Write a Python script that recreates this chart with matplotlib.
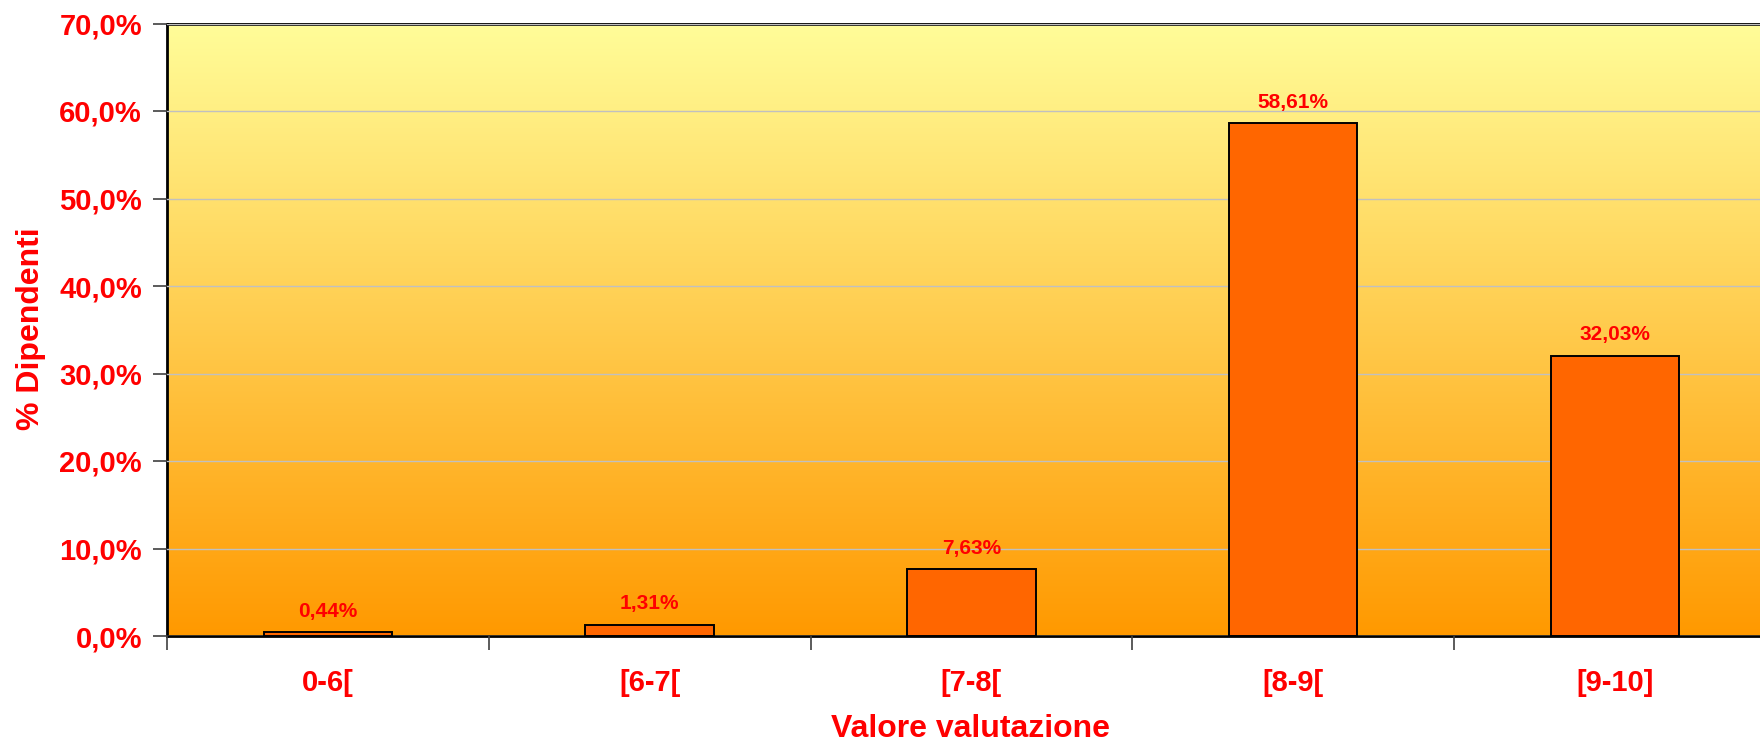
import numpy as np
import matplotlib.pyplot as plt
from matplotlib.colors import LinearSegmentedColormap

plt.rcParams['font.family'] = ['Liberation Sans', 'DejaVu Sans']
plt.rcParams['font.weight'] = 'bold'

# data
categories = ['0-6[', '[6-7[', '[7-8[', '[8-9[', '[9-10]']
percentages = [0.44, 1.31, 7.63, 58.61, 32.03]
value_labels = ['0,44%', '1,31%', '7,63%', '58,61%', '32,03%']
y_ticks = [0, 10, 20, 30, 40, 50, 60, 70]
y_tick_labels = ['0,0%', '10,0%', '20,0%', '30,0%', '40,0%', '50,0%', '60,0%', '70,0%']

red = '#FF0000'
W, H = 1760, 744

fig = plt.figure(figsize=(W / 100, H / 100), dpi=100, facecolor='white')
ax = fig.add_axes([167 / W, 1 - 636 / H, 1 - 167 / W, (636 - 23.5) / H])

# the chart is slightly cut at the right edge
x_right = 4.951

# background gradient (yellow at top -> orange at bottom)
cmap = LinearSegmentedColormap.from_list('bg', ['#FF9900', '#FFFD99'])
grad = np.linspace(0, 1, 256).reshape(-1, 1)
ax.imshow(grad, cmap=cmap, aspect='auto', origin='lower',
          extent=[0, x_right, 0, 70], zorder=0)

x = np.arange(len(categories)) + 0.5
bars = ax.bar(x, percentages, 0.4, color='#FF6600', edgecolor='black',
              linewidth=1.4, zorder=3)

for rect, lab in zip(bars, value_labels):
    ax.annotate(lab, xy=(rect.get_x() + rect.get_width() / 2, rect.get_height()),
                xytext=(0, 15), textcoords='offset points',
                ha='center', va='center', fontsize=15, color=red,
                fontweight='bold', zorder=4)

ax.set_xlim(0, x_right)
ax.set_ylim(0, 70)

ax.set_yticks(y_ticks)
ax.set_yticklabels(y_tick_labels)
ax.yaxis.grid(True, color='#C0C0C0', linewidth=1.0, zorder=1)
ax.set_axisbelow(False)

# x: ticks at category boundaries, labels at centers
ax.set_xticks(np.arange(len(categories)))
ax.set_xticklabels([])
ax.set_xticks(x, minor=True)
ax.set_xticklabels(categories, minor=True)
ax.tick_params(axis='x', which='major', length=10, width=1.2, color='#404040')
ax.tick_params(axis='x', which='minor', length=0, pad=24, labelsize=21,
               labelcolor=red)
ax.tick_params(axis='y', length=10, width=1.2, color='#404040', pad=8,
               labelsize=21, labelcolor=red)
for t in ax.get_xticklabels(minor=True) + ax.get_yticklabels():
    t.set_fontweight('bold')

fig.text(970 / W, 1 - 737 / H, 'Valore valutazione', fontsize=23, color=red,
         fontweight='bold', ha='center', va='baseline')
fig.text(31 / W, 1 - 329 / H, '% Dipendenti', fontsize=23, color=red,
         fontweight='bold', ha='center', va='center', rotation=90)

for side in ['left', 'bottom', 'top']:
    ax.spines[side].set_linewidth(2)
    ax.spines[side].set_color('black')
ax.spines['right'].set_visible(False)

fig.savefig('out.png', dpi=100, facecolor='white')
